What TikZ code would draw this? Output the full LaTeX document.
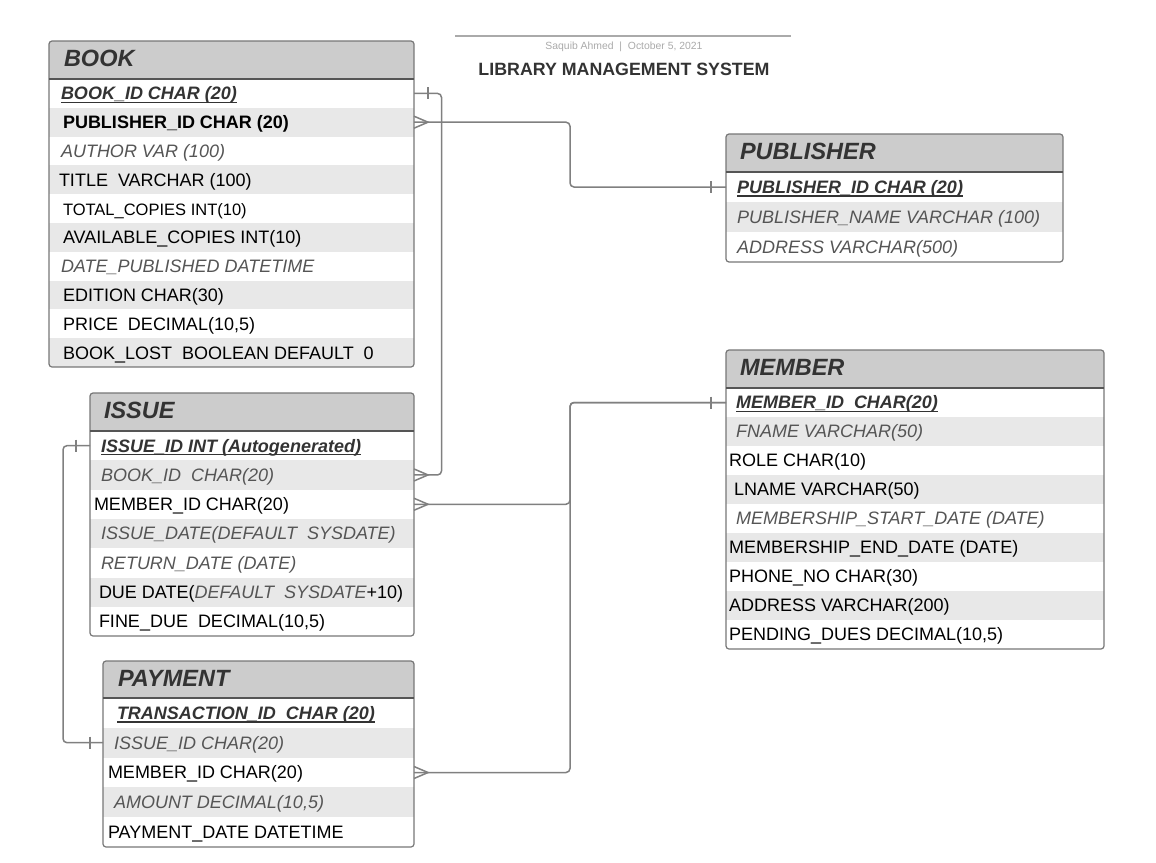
\documentclass[tikz,border=0pt]{standalone}
\usepackage{fontspec}
\setmainfont{Liberation Sans}
\definecolor{headfill}{HTML}{CCCCCC}
\definecolor{rowgray}{HTML}{E8E8E8}
\definecolor{boxline}{HTML}{777777}
\definecolor{hdline}{HTML}{555555}
\definecolor{connc}{HTML}{808080}
\definecolor{itc}{HTML}{555555}
\definecolor{pkc}{HTML}{333333}
\definecolor{titlec}{HTML}{333333}
\definecolor{subc}{HTML}{AAAAAA}
\definecolor{topline}{HTML}{AAAAAA}
\tikzset{
  rowbg/.style={draw=none, inner sep=0pt, outer sep=0pt},
  headbg/.style={draw=none, fill=headfill, inner sep=0pt, outer sep=0pt},
  rowtxt/.style={inner sep=0pt, outer sep=0pt, font=\fontsize{18}{20}\selectfont},
  pkst/.style={text=pkc, font=\fontsize{18}{20}\selectfont\bfseries\itshape},
  itst/.style={text=itc, font=\fontsize{18}{20}\selectfont\itshape},
  rgst/.style={text=black},
  bdst/.style={text=black, font=\fontsize{18}{20}\selectfont\bfseries},
  titlest/.style={inner sep=0pt, outer sep=0pt, text=titlec, font=\fontsize{23.5}{26}\selectfont\bfseries\itshape},
  frame/.style={draw=boxline, line width=1.2pt, rounded corners=3pt},
  hline/.style={draw=hdline, line width=1.2pt},
  ulst/.style={draw=pkc, line width=1.4pt},
  conn/.style={draw=connc, line width=1.5pt, rounded corners=4pt},
}
% name, left, top, width, height, fill, text x, style, text
\newcommand{\errow}[9]{%
  \node[rowbg, fill=#6, minimum width=#4pt, minimum height=#5pt, anchor=north west] (#1) at (#2,#3) {};
  \node[rowtxt, #8, anchor=base west] (#1t) at (#7, #3+#5/2+6.4) {#9};}
\newcommand{\ulrow}[1]{%
  \draw[ulst] ([yshift=-2.6pt]#1t.base west) -- ([yshift=-2.6pt]#1t.base east);}
\newcommand{\crowR}[1]{%
  \draw[conn, rounded corners=0pt] ([yshift=6pt]#1.east) -- ([xshift=14pt]#1.east) -- ([yshift=-6pt]#1.east);}
\newcommand{\tickmark}[2]{%
  \draw[conn, rounded corners=0pt] ([xshift=#2pt,yshift=6pt]#1) -- ([xshift=#2pt,yshift=-6pt]#1);}
\begin{document}
\begin{tikzpicture}[x=1pt,y=-1pt]
\useasboundingbox[fill=white] (0,0) rectangle (1156,862);

% ---- page header
\coordinate (hl) at (455,36);
\coordinate (hr) at (791,36);
\draw[draw=topline, line width=1.6pt] (hl) -- (hr);
\node[inner sep=0pt, font=\fontsize{10.4}{12}\selectfont, text=subc] (author) at (624,47) {Saquib Ahmed\ \ |\ \ October 5, 2021};
\node[inner sep=0pt, font=\fontsize{17.8}{20}\selectfont\bfseries, text=titlec] (maintitle) at (624,69) {LIBRARY MANAGEMENT SYSTEM};

% ---- BOOK
\begin{scope}
\clip[rounded corners=3pt] (49,41) rectangle (414,367);
\node[headbg, minimum width=365pt, minimum height=38pt, anchor=north west] (bookH) at (49,41) {};
\errow{bookR1}{49}{79+0*28.8}{365}{28.8}{white}{61}{pkst}{BOOK\_ID CHAR (20)}
\errow{bookR2}{49}{79+1*28.8}{365}{28.8}{rowgray}{63}{bdst}{PUBLISHER\_ID CHAR (20)}
\errow{bookR3}{49}{79+2*28.8}{365}{28.8}{white}{61}{itst}{AUTHOR VAR (100)}
\errow{bookR4}{49}{79+3*28.8}{365}{28.8}{rowgray}{59}{rgst}{TITLE\ \ VARCHAR (100)}
\errow{bookR5}{49}{79+4*28.8}{365}{28.8}{white}{63}{rgst,font=\fontsize{16.5}{19}\selectfont}{TOTAL\_COPIES INT(10)}
\errow{bookR6}{49}{79+5*28.8}{365}{28.8}{rowgray}{63}{rgst}{AVAILABLE\_COPIES INT(10)}
\errow{bookR7}{49}{79+6*28.8}{365}{28.8}{white}{61}{itst}{DATE\_PUBLISHED DATETIME}
\errow{bookR8}{49}{79+7*28.8}{365}{28.8}{rowgray}{63}{rgst}{EDITION CHAR(30)}
\errow{bookR9}{49}{79+8*28.8}{365}{28.8}{white}{63}{rgst}{PRICE\ \ DECIMAL(10,5)}
\errow{bookR10}{49}{79+9*28.8}{365}{28.8}{rowgray}{63}{rgst}{BOOK\_LOST\ \ BOOLEAN DEFAULT\ \ 0}
\end{scope}
\draw[frame] (49,41) rectangle (414,367);
\draw[hline] (bookH.south west) -- (bookH.south east);
\node[titlest, anchor=base west] (bookT) at (64,66) {BOOK};
\ulrow{bookR1}

% ---- PUBLISHER
\begin{scope}
\clip[rounded corners=3pt] (726,134) rectangle (1063,262);
\node[headbg, minimum width=337pt, minimum height=38pt, anchor=north west] (pubH) at (726,134) {};
\errow{pubR1}{726}{172+0*30}{337}{30}{white}{737}{pkst}{PUBLISHER\_ID CHAR (20)}
\errow{pubR2}{726}{172+1*30}{337}{30}{rowgray}{737}{itst}{PUBLISHER\_NAME VARCHAR (100)}
\errow{pubR3}{726}{172+2*30}{337}{30}{white}{737}{itst}{ADDRESS VARCHAR(500)}
\end{scope}
\draw[frame] (726,134) rectangle (1063,262);
\draw[hline] (pubH.south west) -- (pubH.south east);
\node[titlest, anchor=base west] (pubT) at (740,159) {PUBLISHER};
\ulrow{pubR1}

% ---- ISSUE
\begin{scope}
\clip[rounded corners=3pt] (90,393) rectangle (414,636);
\node[headbg, minimum width=324pt, minimum height=38pt, anchor=north west] (issH) at (90,393) {};
\errow{issueR1}{90}{431+0*29.3}{324}{29.3}{white}{101}{pkst}{ISSUE\_ID INT (Autogenerated)}
\errow{issueR2}{90}{431+1*29.3}{324}{29.3}{rowgray}{101}{itst}{BOOK\_ID\ \ CHAR(20)}
\errow{issueR3}{90}{431+2*29.3}{324}{29.3}{white}{94}{rgst}{MEMBER\_ID CHAR(20)}
\errow{issueR4}{90}{431+3*29.3}{324}{29.3}{rowgray}{101}{itst}{ISSUE\_DATE(DEFAULT\ \ SYSDATE)}
\errow{issueR5}{90}{431+4*29.3}{324}{29.3}{white}{101}{itst}{RETURN\_DATE (DATE)}
\errow{issueR6}{90}{431+5*29.3}{324}{29.3}{rowgray}{99}{rgst}{DUE DATE({\itshape\color{itc}DEFAULT\ \ SYSDATE}+10)}
\errow{issueR7}{90}{431+6*29.3}{324}{29.3}{white}{99}{rgst}{FINE\_DUE\ \ DECIMAL(10,5)}
\end{scope}
\draw[frame] (90,393) rectangle (414,636);
\draw[hline] (issH.south west) -- (issH.south east);
\node[titlest, anchor=base west] (issT) at (104,418) {ISSUE};
\ulrow{issueR1}

% ---- PAYMENT
\begin{scope}
\clip[rounded corners=3pt] (103,661) rectangle (414,847);
\node[headbg, minimum width=311pt, minimum height=37pt, anchor=north west] (payH) at (103,661) {};
\errow{payR1}{103}{698+0*29.8}{311}{29.8}{white}{117}{pkst}{TRANSACTION\_ID\ \ CHAR (20)}
\errow{payR2}{103}{698+1*29.8}{311}{29.8}{rowgray}{114}{itst}{ISSUE\_ID CHAR(20)}
\errow{payR3}{103}{698+2*29.8}{311}{29.8}{white}{108}{rgst}{MEMBER\_ID CHAR(20)}
\errow{payR4}{103}{698+3*29.8}{311}{29.8}{rowgray}{114}{itst}{AMOUNT DECIMAL(10,5)}
\errow{payR5}{103}{698+4*29.8}{311}{29.8}{white}{108}{rgst}{PAYMENT\_DATE DATETIME}
\end{scope}
\draw[frame] (103,661) rectangle (414,847);
\draw[hline] (payH.south west) -- (payH.south east);
\node[titlest, anchor=base west] (payT) at (118,686) {PAYMENT};
\ulrow{payR1}

% ---- MEMBER
\begin{scope}
\clip[rounded corners=3pt] (726,350) rectangle (1104,649);
\node[headbg, minimum width=378pt, minimum height=38pt, anchor=north west] (memH) at (726,350) {};
\errow{memR1}{726}{388+0*29}{378}{29}{white}{736}{pkst}{MEMBER\_ID\ \ CHAR(20)}
\errow{memR2}{726}{388+1*29}{378}{29}{rowgray}{736}{itst}{FNAME VARCHAR(50)}
\errow{memR3}{726}{388+2*29}{378}{29}{white}{729}{rgst}{ROLE CHAR(10)}
\errow{memR4}{726}{388+3*29}{378}{29}{rowgray}{734}{rgst}{LNAME VARCHAR(50)}
\errow{memR5}{726}{388+4*29}{378}{29}{white}{736}{itst}{MEMBERSHIP\_START\_DATE (DATE)}
\errow{memR6}{726}{388+5*29}{378}{29}{rowgray}{729}{rgst}{MEMBERSHIP\_END\_DATE (DATE)}
\errow{memR7}{726}{388+6*29}{378}{29}{white}{729}{rgst}{PHONE\_NO CHAR(30)}
\errow{memR8}{726}{388+7*29}{378}{29}{rowgray}{729}{rgst}{ADDRESS VARCHAR(200)}
\errow{memR9}{726}{388+8*29}{378}{29}{white}{729}{rgst}{PENDING\_DUES DECIMAL(10,5)}
\end{scope}
\draw[frame] (726,350) rectangle (1104,649);
\draw[hline] (memH.south west) -- (memH.south east);
\node[titlest, anchor=base west] (memT) at (740,375) {MEMBER};
\ulrow{memR1}

% ---- connectors
\coordinate (bx) at (441.5,0);
\coordinate (midx) at (570,0);
\coordinate (leftx) at (63,0);

% BOOK.BOOK_ID -> ISSUE.BOOK_ID
\draw[conn] (bookR1.east) -- (bookR1.east -| bx) |- (issueR2.east);
\tickmark{bookR1.east}{14}
\crowR{issueR2}

% BOOK.PUBLISHER_ID -> PUBLISHER.PUBLISHER_ID
\draw[conn] (bookR2.east) -- (bookR2.east -| midx) |- (pubR1.west);
\crowR{bookR2}
\tickmark{pubR1.west}{-15}

% ISSUE.MEMBER_ID -> MEMBER.MEMBER_ID
\draw[conn] (issueR3.east) -- (issueR3.east -| midx) |- (memR1.west);
\crowR{issueR3}
\tickmark{memR1.west}{-15}

% PAYMENT.MEMBER_ID -> MEMBER.MEMBER_ID
\draw[conn] (payR3.east) -- (payR3.east -| midx) |- (memR1.west);
\crowR{payR3}

% ISSUE.ISSUE_ID -> PAYMENT.ISSUE_ID
\draw[conn] (issueR1.west) -- (issueR1.west -| leftx) |- (payR2.west);
\tickmark{issueR1.west}{-14}
\tickmark{payR2.west}{-13}
\end{tikzpicture}
\end{document}
